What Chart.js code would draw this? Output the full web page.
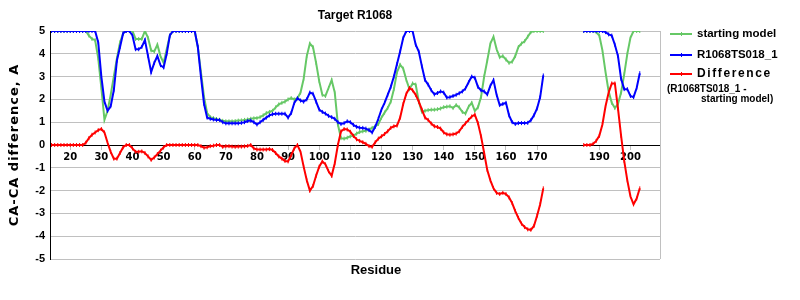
<!DOCTYPE html>
<html><head><meta charset="utf-8">
<script src="https://cdn.jsdelivr.net/npm/chart.js@4/dist/chart.umd.min.js"></script>
<style>html,body{margin:0;padding:0;background:#fff}#wrap{width:800px;height:300px}</style>
</head><body><div id="wrap"><canvas id="c" width="800" height="300"></canvas></div>
<script>
// Residue numbers (x categories); 173-184 missing
const residues = [14,15,16,17,18,19,20,21,22,23,24,25,26,27,28,29,30,31,32,33,34,35,36,37,38,39,40,41,42,43,44,45,46,47,48,49,50,51,52,53,54,55,56,57,58,59,60,61,62,63,64,65,66,67,68,69,70,71,72,73,74,75,76,77,78,79,80,81,82,83,84,85,86,87,88,89,90,91,92,93,94,95,96,97,98,99,100,101,102,103,104,105,106,107,108,109,110,111,112,113,114,115,116,117,118,119,120,121,122,123,124,125,126,127,128,129,130,131,132,133,134,135,136,137,138,139,140,141,142,143,144,145,146,147,148,149,150,151,152,153,154,155,156,157,158,159,160,161,162,163,164,165,166,167,168,169,170,171,172,173,174,175,176,177,178,179,180,181,182,183,184,185,186,187,188,189,190,191,192,193,194,195,196,197,198,199,200,201,202,203];

const startingModel = [
5,5,5,5,5,5,5,5,5,5,5,5,4.8,4.65,4.6,3.8,2.5,1.1,1.5,2.2,3.0,3.8,4.5,4.9,5,5,5,4.65,4.65,4.65,5,4.7,4.15,4.1,4.4,3.9,3.6,4.2,4.8,5,
5,5,5,5,5,5,5,4.3,3.2,2.1,1.4,1.22,1.18,1.14,1.1,1.06,1.04,1.04,1.04,1.05,1.07,1.08,1.1,1.12,1.15,1.17,1.18,1.22,1.3,1.4,1.45,1.5,1.65,1.78,1.85,1.9,2.0,2.06,2.0,
2.05,2.3,2.9,3.9,4.45,4.3,3.6,2.8,2.2,2.15,2.5,2.85,2.3,0.9,0.3,0.28,0.32,0.38,0.4,0.5,0.57,0.6,0.62,0.68,0.75,0.82,0.92,1.2,1.42,1.62,1.9,2.45,3.2,3.52,3.35,2.85,2.45,2.7,2.65,
1.9,1.45,1.5,1.53,1.55,1.55,1.57,1.6,1.66,1.68,1.7,1.62,1.75,1.65,1.45,1.38,1.68,1.85,1.5,1.65,2.1,3.0,3.7,4.45,4.75,4.2,3.85,3.9,3.75,3.6,3.65,3.9,4.3,4.45,4.55,4.75,4.95,5,5,5,5,
null,null,null,null,null,null,null,null,null,null,null,null,
5,5,5,5,4.95,4.8,4.15,3.2,2.35,1.85,1.62,1.8,2.3,3.1,4.0,4.7,5,5,5];

const model018 = [
5,5,5,5,5,5,5,5,5,5,5,5,5,5,5,4.5,3.0,1.9,1.5,1.7,2.4,3.7,4.3,4.9,5,5,4.8,4.2,4.2,4.3,4.6,3.9,3.2,3.6,3.9,3.5,3.4,4.0,4.8,5,
5,5,5,5,5,5,5,4.3,3.0,1.8,1.2,1.15,1.12,1.1,1.1,1.0,0.95,0.95,0.95,0.95,0.95,0.97,1.0,1.05,1.07,1.0,0.9,1.0,1.1,1.2,1.3,1.35,1.37,1.37,1.37,1.37,1.2,1.4,1.85,
2.05,1.95,1.9,2.0,2.3,2.25,1.9,1.55,1.45,1.38,1.28,1.22,1.15,1.0,0.92,0.96,1.04,1.0,0.88,0.8,0.76,0.75,0.72,0.65,0.55,0.8,1.15,1.55,1.85,2.2,2.55,3.0,3.55,4.1,4.7,5,5,5,4.4,
4.1,3.45,2.85,2.65,2.4,2.22,2.28,2.35,2.3,2.08,2.1,2.15,2.2,2.27,2.35,2.48,2.75,3.0,2.95,2.55,2.4,2.35,2.22,2.6,2.85,2.2,1.75,1.8,1.85,1.3,1.0,0.92,0.96,0.96,0.96,0.97,1.08,1.3,1.6,2.1,3.05,
null,null,null,null,null,null,null,null,null,null,null,null,
5,5,5,5,5,5,5,4.95,4.85,4.8,4.4,3.9,2.9,2.45,2.45,2.15,2.1,2.5,3.15];

const difference = [
0,0,0,0,0,0,0,0,0,0,0,0.1,0.3,0.45,0.55,0.65,0.7,0.55,0.1,-0.3,-0.6,-0.6,-0.35,-0.1,0,0,-0.15,-0.3,-0.3,-0.28,-0.35,-0.5,-0.65,-0.55,-0.4,-0.25,-0.1,0,0,0,
0,0,0,0,0,0,0,0,-0.05,-0.12,-0.1,-0.05,-0.03,0,0,-0.08,-0.05,-0.05,-0.07,-0.08,-0.07,-0.07,-0.06,-0.04,0,-0.15,-0.2,-0.2,-0.2,-0.2,-0.18,-0.22,-0.35,-0.5,-0.6,-0.7,-0.72,-0.45,-0.15,
0,-0.3,-0.95,-1.55,-2.0,-1.8,-1.35,-0.95,-0.72,-0.85,-1.15,-1.35,-0.8,0,0.6,0.7,0.68,0.58,0.4,0.25,0.18,0.12,0.05,-0.05,-0.08,0.12,0.28,0.38,0.48,0.6,0.75,0.82,0.85,1.2,1.8,2.25,2.5,2.4,2.2,
1.9,1.55,1.2,1.1,0.94,0.82,0.79,0.72,0.55,0.47,0.45,0.47,0.5,0.6,0.8,0.95,1.1,1.25,1.33,0.96,0.38,-0.35,-1.1,-1.55,-1.9,-2.1,-2.15,-2.1,-2.15,-2.3,-2.55,-2.9,-3.2,-3.45,-3.6,-3.7,-3.72,-3.55,-3.1,-2.6,-1.9,
null,null,null,null,null,null,null,null,null,null,null,null,
0,0,0,0.05,0.18,0.4,0.9,1.7,2.3,2.7,2.7,1.6,0.4,-0.7,-1.55,-2.25,-2.6,-2.35,-1.9];

const xTickValues = [20,30,40,50,60,70,80,90,100,110,120,130,140,150,160,170,190,200];
const yTicks = [-5,-4,-3,-2,-1,0,1,2,3,4,5];

const seriesNames = ['starting model','R1068TS018_1','Difference'];
const seriesColors = ['#66c866','#0000ff','#ff0000'];

function pts(vals){ return residues.map((r,i)=>({x:r,y:vals[i]})); }

const legendPlugin = {
  id:'customLegend',
  afterDraw(chart){
    const ctx = chart.ctx;
    const ca = chart.chartArea;
    ctx.save();
    // right border of plot area
    ctx.strokeStyle = '#c0c0c0'; ctx.lineWidth = 1;
    ctx.beginPath(); ctx.moveTo(Math.round(ca.right)+0.5, ca.top); ctx.lineTo(Math.round(ca.right)+0.5, ca.bottom); ctx.stroke();
    const ys = [34,55,74];
    ctx.textBaseline = 'middle';
    ys.forEach((y,i)=>{
      ctx.strokeStyle = seriesColors[i]; ctx.lineWidth = 2;
      ctx.beginPath(); ctx.moveTo(670,y); ctx.lineTo(692,y); ctx.stroke();
      ctx.lineWidth = 1;
      ctx.beginPath(); ctx.moveTo(681.5,y-2); ctx.lineTo(681.5,y+2); ctx.stroke();
    });
    ctx.fillStyle = '#000';
    ctx.font = 'bold 11.5px "Liberation Sans"';
    ctx.fillText(seriesNames[0], 697, ys[0]);
    ctx.fillText(seriesNames[1], 697, ys[1]);
    ctx.font = 'bold 12px "Liberation Sans"';
    if ('letterSpacing' in ctx) ctx.letterSpacing = '1.6px';
    ctx.fillText(seriesNames[2], 697, ys[2]);
    if ('letterSpacing' in ctx) ctx.letterSpacing = '0px';
    ctx.font = 'bold 10px "Liberation Sans"';
    ctx.fillText('(R1068TS018_1 -', 667, 89);
    ctx.fillText('starting model)', 701, 99);
    // x axis title
    ctx.font = 'bold 13px "Liberation Sans"';
    ctx.textAlign = 'center';
    ctx.fillText('Residue', 376, 270);
    // y axis title
    ctx.save();
    ctx.translate(15, 145);
    ctx.rotate(-Math.PI/2);
    ctx.font = 'bold 13px "DejaVu Sans"';
    if ('letterSpacing' in ctx) ctx.letterSpacing = '1px';
    ctx.textAlign = 'center';
    ctx.fillText('CA-CA difference, A', 0, 0);
    ctx.restore();
    ctx.restore();
  }
};

const common = {borderWidth:2, pointStyle:'line', rotation:90, pointRadius:2, pointBorderWidth:1, spanGaps:false, tension:0, fill:false};

new Chart(document.getElementById('c'), {
  type:'line',
  data:{ datasets:[
    Object.assign({label:seriesNames[0], data:pts(startingModel), borderColor:seriesColors[0], backgroundColor:seriesColors[0], order:3}, common),
    Object.assign({label:seriesNames[1], data:pts(model018), borderColor:seriesColors[1], backgroundColor:seriesColors[1], order:2}, common),
    Object.assign({label:seriesNames[2], data:pts(difference), borderColor:seriesColors[2], backgroundColor:seriesColors[2], order:1}, common)
  ]},
  options:{
    responsive:false, animation:false, events:[],
    layout:{padding:{left:0, right:140, top:0, bottom:41}},
    plugins:{
      legend:{display:false}, tooltip:{enabled:false},
      title:{display:true, text:'Target R1068', fullSize:false, color:'#000', font:{family:'"Liberation Sans"', size:12, weight:'bold'}, padding:{top:8, bottom:8.6}}
    },
    scales:{
      x:{type:'linear', min:13.5, max:209.5, position:{y:0},
        afterBuildTicks(axis){ axis.ticks = xTickValues.map(v=>({value:v})); },
        ticks:{autoSkip:false, maxRotation:0, color:'#000', font:{family:'"DejaVu Sans"', size:10, weight:'bold'}, padding:2, callback:(v)=>String(v)},
        grid:{drawOnChartArea:false, drawTicks:true, tickLength:4, color:'#c0c0c0'},
        border:{display:true, color:'#000', width:1}
      },
      y:{type:'linear', min:-5, max:5,
        afterBuildTicks(axis){ axis.ticks = yTicks.map(v=>({value:v})); },
        afterFit(axis){ axis.width = 50; },
        ticks:{color:'#000', font:{family:'"Liberation Sans"', size:11, weight:'bold'}, padding:5},
        grid:{color:'#c0c0c0', drawTicks:false, lineWidth:1},
        border:{display:true, color:'#000', width:1}
      }
    }
  },
  plugins:[legendPlugin]
});
</script></body></html>
